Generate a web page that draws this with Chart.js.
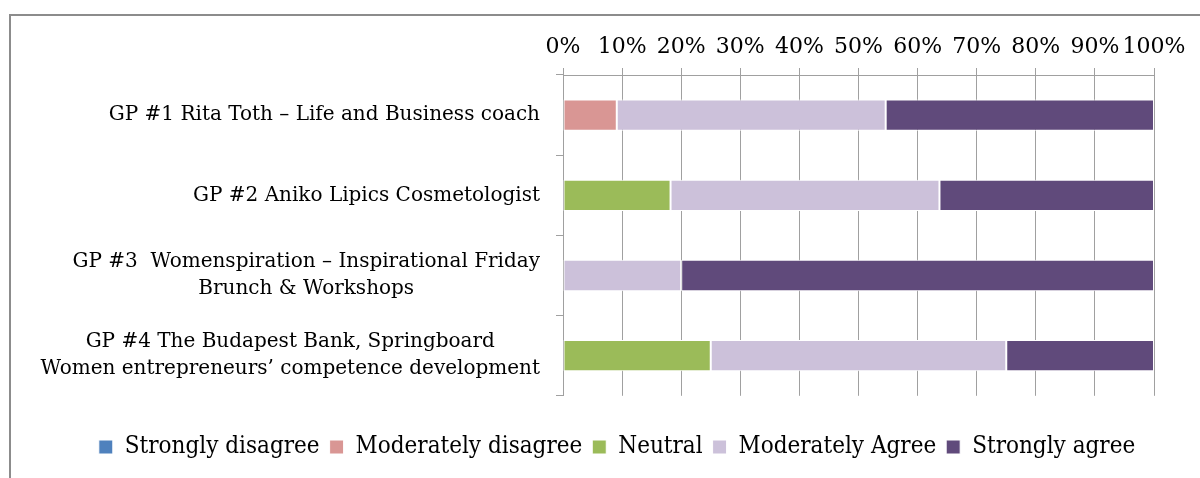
<!DOCTYPE html>
<html>
<head>
<meta charset="utf-8">
<script src="https://cdn.jsdelivr.net/npm/chart.js@4.4.1/dist/chart.umd.min.js"></script>
<style>
  html, body { margin: 0; padding: 0; background: #fff; overflow: hidden; }
  #frame {
    position: absolute; left: 9px; top: 14px; width: 1260px; height: 520px;
    border-left: 2px solid #8c8c8c; border-top: 2px solid #8c8c8c;
  }
  #chart { position: absolute; left: 0; top: 0; }
</style>
</head>
<body>
<div id="frame"></div>
<canvas id="chart" width="1200" height="478"></canvas>
<script>
const categories = [
  ['GP #1 Rita Toth – Life and Business coach'],
  ['GP #2 Aniko Lipics Cosmetologist'],
  ['GP #3  Womenspiration – Inspirational Friday', 'Brunch & Workshops'],
  ['GP #4 The Budapest Bank, Springboard', 'Women entrepreneurs’ competence development']
];
const seriesNames = ['Strongly disagree', 'Moderately disagree', 'Neutral', 'Moderately Agree', 'Strongly agree'];
const stronglyDisagree = [0, 0, 0, 0];
const moderatelyDisagree = [9.1, 0, 0, 0];
const neutral = [0, 18.2, 0, 25];
const moderatelyAgree = [45.5, 45.5, 20, 50];
const stronglyAgree = [45.4, 36.3, 80, 25];
const tickValues = [0, 10, 20, 30, 40, 50, 60, 70, 80, 90, 100];
const colors = ['#4f81bd', '#d99694', '#9bbb59', '#ccc1da', '#604a7b'];

const serif = '"DejaVu Serif", serif';
const gridColor = '#a0a0a0';

// category labels: block right-aligned, lines centered inside the block
const labelPlugin = {
  id: 'catLabels',
  afterDraw(chart) {
    const y = chart.scales.y;
    const ctx = chart.ctx;
    ctx.save();
    ctx.font = '20px ' + serif;
    ctx.fillStyle = '#000';
    ctx.textAlign = 'center';
    ctx.textBaseline = 'middle';
    const lineH = 27;
    categories.forEach((lines, i) => {
      const cy = y.getPixelForTick(i);
      const w = Math.max(...lines.map(l => ctx.measureText(l).width));
      const cx = y.right - 23 - w / 2;
      lines.forEach((l, j) => {
        ctx.fillText(l, cx, cy + (j - (lines.length - 1) / 2) * lineH);
      });
    });
    ctx.restore();
  }
};

new Chart(document.getElementById('chart'), {
  type: 'bar',
  data: {
    labels: categories,
    datasets: [stronglyDisagree, moderatelyDisagree, neutral, moderatelyAgree, stronglyAgree].map((d, i) => ({
      label: seriesNames[i],
      data: d,
      backgroundColor: colors[i],
      borderColor: '#ffffff',
      borderWidth: 1,
      borderSkipped: false,
      barPercentage: 0.78,
      categoryPercentage: 0.5
    }))
  },
  options: {
    indexAxis: 'y',
    responsive: false,
    animation: false,
    devicePixelRatio: 1,
    layout: { padding: { left: 80, right: 46, top: 30, bottom: 9 } },
    scales: {
      x: {
        position: 'top',
        stacked: true,
        min: 0,
        max: 100,
        afterBuildTicks(scale) { scale.ticks = tickValues.map(v => ({ value: v })); },
        afterFit(scale) { scale.height = 45; },
        ticks: {
          callback: v => v + '%',
          color: '#000',
          font: { family: serif, size: 22 },
          padding: 8,
          maxRotation: 0,
          autoSkip: false
        },
        grid: { color: gridColor, tickLength: 7, drawOnChartArea: true },
        border: { color: gridColor }
      },
      y: {
        stacked: true,
        afterFit(scale) { scale.width = 563 - 80; },
        ticks: { color: 'rgba(0,0,0,0)', font: { family: serif, size: 20 } },
        grid: { color: gridColor, tickLength: 7, drawOnChartArea: false, offset: true },
        border: { color: gridColor }
      }
    },
    plugins: {
      tooltip: { enabled: false },
      legend: {
        position: 'bottom',
        title: { display: true, text: '', font: { size: 1 }, padding: { top: 28, bottom: 0 } },
        labels: {
          color: '#000',
          boxWidth: 14,
          boxHeight: 14,
          padding: 10,
          font: { family: '"DejaVu Serif Condensed", ' + serif, size: 24 }
        }
      }
    }
  },
  plugins: [labelPlugin]
});
</script>
</body>
</html>
